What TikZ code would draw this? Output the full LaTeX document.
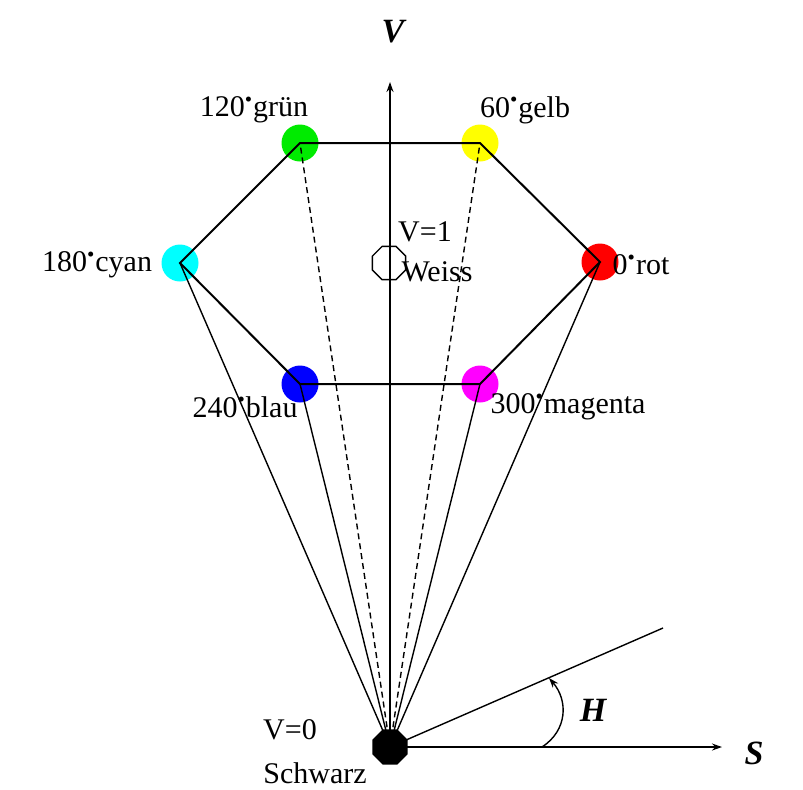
\documentclass[tikz,border=0pt]{standalone}
\usepackage{fontspec}
\setmainfont{Liberation Serif}
\usetikzlibrary{shapes.geometric,arrows.meta}
\definecolor{hsvgruen}{RGB}{0,235,0}
\definecolor{hsvgelb}{RGB}{255,255,0}
\definecolor{hsvrot}{RGB}{255,0,0}
\definecolor{hsvmagenta}{RGB}{255,0,255}
\definecolor{hsvblau}{RGB}{0,0,255}
\definecolor{hsvcyan}{RGB}{0,255,255}
\newcommand{\grd}{\textsuperscript{\textbullet}}

\begin{document}
\begin{tikzpicture}[x=0.5pt,y=-0.5pt,
    farbe/.style={circle, minimum size=18.5pt, inner sep=0pt},
    kante/.style={line width=1pt},
    strahl/.style={line width=0.7pt},
    gestrichelt/.style={line width=0.7pt, dash pattern=on 3pt off 2pt},
    achse/.style={line width=0.7pt, -{Stealth[length=5pt,width=3.5pt]}},
    lbl/.style={font=\fontsize{15}{17}\selectfont, inner sep=0pt},
    achslbl/.style={font=\fontsize{17}{19}\selectfont\bfseries\itshape, inner sep=0pt}
]
\useasboundingbox (0,0) rectangle (803,789);

% Farbpunkte des Sechsecks
\node[farbe, fill=hsvgruen] (gruen) at (300,143) {};
\node[farbe, fill=hsvgelb] (gelb) at (480,143) {};
\node[farbe, fill=hsvrot] (rot) at (600,262) {};
\node[farbe, fill=hsvmagenta] (magenta) at (480,384) {};
\node[farbe, fill=hsvblau] (blau) at (300,384) {};
\node[farbe, fill=hsvcyan] (cyan) at (180,263) {};
\coordinate (o) at (390,747);
\coordinate (vtop) at (390,82);
\coordinate (stip) at (722,747);
\coordinate (hend) at (663,628);

% Sechseck
\draw[kante] (gruen.center) -- (gelb.center) -- (rot.center) -- (magenta.center)
    -- (blau.center) -- (cyan.center) -- cycle;

% Strahlen zum Schwarzpunkt
\draw[strahl] (o) -- (cyan.center);
\draw[strahl] (o) -- (blau.center);
\draw[strahl] (o) -- (magenta.center);
\draw[strahl] (o) -- (rot.center);
\draw[gestrichelt] (o) -- (gruen.center);
\draw[gestrichelt] (o) -- (gelb.center);

% Achsen
\draw[achse] (o) -- (vtop);
\draw[achse] (o) -- (stip);
\draw[strahl] (o) -- (hend);
\draw[line width=0.7pt, -{Stealth[length=5pt,width=3.5pt]}]
    (542,747) .. controls (568,730) and (568,700) .. (549,678);

% Schwarz und Weiss
\node[regular polygon, regular polygon sides=8, fill=black, minimum size=19pt, inner sep=0pt] (schwarz) at (o) {};
\node[regular polygon, regular polygon sides=8, draw, line width=0.7pt, minimum size=18pt, inner sep=0pt] (weiss) at (389,263) {};

% Beschriftungen
\node[lbl] (lgruen) at (254,110) {120\grd{}grün};
\node[lbl] (lgelb) at (525,110) {60\grd{}gelb};
\node[lbl] (lcyan) at (97,265) {180\grd{}cyan};
\node[lbl] (lrot) at (641,265) {0\grd{}rot};
\node[lbl] (lblau) at (245,407) {240\grd{}blau};
\node[lbl] (lmagenta) at (568,407) {300\grd{}magenta};
\node[lbl] (lv1) at (425,232) {V=1};
\node[lbl] (lweiss) at (437,272) {Weiss};
\node[lbl] (lv0) at (290,730) {V=0};
\node[lbl] (lschwarz) at (315,773) {Schwarz};
\node[achslbl] (lv) at (393,32) {V};
\node[achslbl] (lh) at (593,710) {H};
\node[achslbl] (ls) at (754,753) {S};
\end{tikzpicture}
\end{document}
